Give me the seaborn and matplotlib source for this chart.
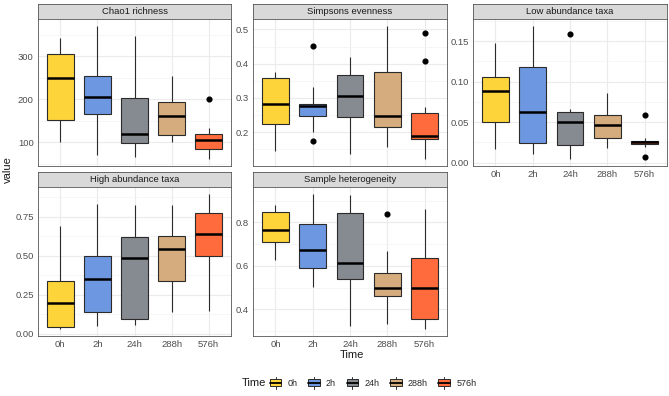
import pandas as pd
import matplotlib
matplotlib.use("Agg")
import matplotlib.pyplot as plt
import seaborn as sns
from matplotlib.ticker import MultipleLocator, FormatStrFormatter
from matplotlib.patches import Rectangle
from matplotlib.lines import Line2D
from matplotlib.legend_handler import HandlerBase

# Time points and fill colours
times = ["0h", "2h", "24h", "288h", "576h"]
colors = ["#FDD43A", "#6D97E0", "#868B91", "#D4AC7D", "#FF6B3D"]

chao1 = [
    [100, 152, 249, 305, 343],
    [71, 165, 205, 254, 371],
    [66, 98, 119, 202, 348],
    [101, 117, 160, 194, 255],
    [60, 72, 84, 95, 104, 110, 118, 133, 201],
]
simpson = [
    [0.145, 0.225, 0.281, 0.359, 0.375],
    [0.173, 0.202, 0.248, 0.26, 0.276, 0.279, 0.283, 0.333, 0.452],
    [0.137, 0.244, 0.305, 0.367, 0.421],
    [0.156, 0.214, 0.248, 0.375, 0.511],
    [0.121, 0.15, 0.17, 0.179, 0.183, 0.187, 0.19, 0.21, 0.24, 0.256, 0.273, 0.409, 0.49],
]
low_abund = [
    [0.017, 0.050, 0.088, 0.106, 0.148],
    [0.010, 0.024, 0.063, 0.1175, 0.169],
    [0.004, 0.012, 0.022, 0.035, 0.050, 0.058, 0.063, 0.066, 0.159],
    [0.0185, 0.0305, 0.0466, 0.0585, 0.0853],
    [0.0074, 0.019, 0.0227, 0.024, 0.0251, 0.026, 0.0272, 0.0305, 0.0585],
]
high_abund = [
    [0.030, 0.0435, 0.200, 0.341, 0.689],
    [0.048, 0.139, 0.350, 0.500, 0.835],
    [0.054, 0.098, 0.489, 0.622, 0.826],
    [0.139, 0.337, 0.541, 0.628, 0.824],
    [0.146, 0.498, 0.641, 0.776, 0.898],
]
heterogeneity = [
    [0.629, 0.710, 0.767, 0.850, 0.878],
    [0.502, 0.590, 0.671, 0.792, 0.932],
    [0.321, 0.540, 0.612, 0.845, 0.925],
    [0.333, 0.40, 0.459, 0.48, 0.4965, 0.53, 0.5665, 0.669, 0.839],
    [0.308, 0.355, 0.500, 0.635, 0.864],
]

panels = [
    ("Chao1 richness", chao1, 100, "%d"),
    ("Simpsons evenness", simpson, 0.1, "%.1f"),
    ("Low abundance taxa", low_abund, 0.05, "%.2f"),
    ("High abundance taxa", high_abund, 0.25, "%.2f"),
    ("Sample heterogeneity", heterogeneity, 0.2, "%.1f"),
]

sns.set_style("white")
plt.rcParams["font.family"] = ["Liberation Sans", "DejaVu Sans"]

W, H = 669, 396
fig = plt.figure(figsize=(W / 100, H / 100), dpi=100)


def px(x0, y0, x1, y1):
    return [x0 / W, 1 - y1 / H, (x1 - x0) / W, (y1 - y0) / H]


cols = [(38, 231), (253, 447), (473, 667)]
rows = [((4, 19), (19, 166)), ((172, 187), (187, 336))]
border = "#555555"

for i, (title, groups, step, fmt) in enumerate(panels):
    r, c = divmod(i, 3)
    x0, x1 = cols[c]
    (s0, s1), (p0, p1) = rows[r]

    # strip
    sax = fig.add_axes(px(x0, s0, x1, s1))
    sax.set_facecolor("#D9D9D9")
    sax.set_xticks([])
    sax.set_yticks([])
    for sp in sax.spines.values():
        sp.set_color(border)
        sp.set_linewidth(0.6)
    sax.text(0.5, 0.5, title, ha="center", va="center", fontsize=6.8, color="#1A1A1A",
             transform=sax.transAxes)

    # panel
    ax = fig.add_axes(px(x0, p0, x1, p1))
    df = pd.DataFrame({
        "Time": [t for t, g in zip(times, groups) for _ in g],
        "value": [v for g in groups for v in g],
    })
    sns.boxplot(data=df, x="Time", y="value", hue="Time", order=times, hue_order=times,
                palette=colors, legend=False, width=0.72, saturation=1,
                linecolor="#2b2b2b", linewidth=0.8, fliersize=3.4,
                flierprops=dict(marker="o", markerfacecolor="black", markeredgecolor="black"),
                medianprops=dict(color="black", linewidth=1.8),
                showcaps=False, ax=ax)
    ax.set_xlim(-0.6, 4.6)
    ax.set_xlabel("")
    ax.set_ylabel("")
    ax.yaxis.set_major_locator(MultipleLocator(step))
    ax.yaxis.set_minor_locator(MultipleLocator(step / 2))
    ax.yaxis.set_major_formatter(FormatStrFormatter(fmt))
    ax.set_axisbelow(True)
    ax.grid(which="major", color="#EBEBEB", linewidth=0.8)
    ax.grid(which="minor", axis="y", color="#F3F3F3", linewidth=0.5)
    ax.tick_params(which="major", length=2, width=0.5, color="#333333",
                   labelsize=6.8, labelcolor="#4D4D4D", pad=1)
    ax.tick_params(which="minor", length=0)
    if r == 0 and c < 2:
        ax.tick_params(axis="x", length=0, labelbottom=False)
    for sp in ax.spines.values():
        sp.set_color(border)
        sp.set_linewidth(0.6)

fig.text(8 / W, 1 - 170 / H, "value", rotation=90, ha="center", va="center",
         fontsize=8, color="#1A1A1A")
fig.text(352 / W, 1 - 355.5 / H, "Time", ha="center", va="center", fontsize=8, color="#1A1A1A")


class BoxKey(HandlerBase):
    def create_artists(self, legend, orig_handle, xdescent, ydescent, width, height,
                       fontsize, trans):
        x = -xdescent
        y = -ydescent
        fc = orig_handle.get_facecolor()
        box = Rectangle((x + 0.05 * width, y + 0.12 * height), 0.9 * width, 0.76 * height,
                        facecolor=fc, edgecolor="#2b2b2b", linewidth=0.7, transform=trans)
        med = Line2D([x + 0.05 * width, x + 0.95 * width], [y + 0.5 * height] * 2,
                     color="black", linewidth=1.3, transform=trans)
        w1 = Line2D([x + 0.5 * width] * 2, [y - 0.12 * height, y + 0.12 * height],
                    color="#2b2b2b", linewidth=0.7, transform=trans)
        w2 = Line2D([x + 0.5 * width] * 2, [y + 0.88 * height, y + 1.12 * height],
                    color="#2b2b2b", linewidth=0.7, transform=trans)
        return [w1, w2, box, med]


handles = [Rectangle((0, 0), 1, 1, facecolor=col) for col in colors]
fig.legend(handles, times, handler_map={Rectangle: BoxKey()}, loc="center left",
           bbox_to_anchor=(269 / W, 1 - 383 / H), ncol=5, frameon=False, fontsize=6.5,
           handlelength=1.45, handleheight=1.2, handletextpad=0.6, columnspacing=1.1,
           borderpad=0, borderaxespad=0)
fig.text(242 / W, 1 - 383 / H, "Time", ha="left", va="center", fontsize=8, color="#1A1A1A")

fig.savefig("out.png", dpi=100)
